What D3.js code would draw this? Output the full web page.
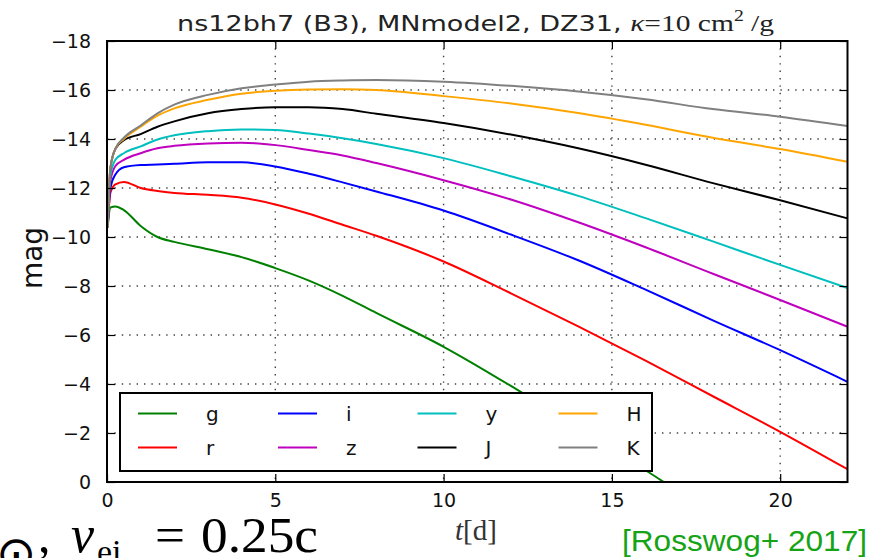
<!DOCTYPE html>
<html>
<head>
<meta charset="utf-8">
<script src="https://cdn.jsdelivr.net/npm/d3@7"></script>
<style>
  html, body { margin: 0; padding: 0; background: #fff; }
  svg { display: block; }
</style>
</head>
<body>
<svg id="chart" width="881" height="558"></svg>
<script>
// ---------------- data ----------------
const times = [0.02, 0.1, 0.25, 0.5, 1, 1.5, 2, 3, 4, 5, 6, 7, 8, 10, 12, 14, 16, 18, 20, 22];
const bandNames = ["g", "r", "i", "z", "y", "J", "H", "K"];
const bandColors = ["#008000", "#ff0000", "#0000ff", "#bf00bf", "#00bfbf", "#000000", "#ffa500", "#808080"];
const gMag = [-10.4, -11.2, -11.25, -11.1, -10.45, -10.0, -9.8, -9.5, -9.18, -8.73, -8.22, -7.6, -6.9, -5.52, -3.92, -2.2, -0.48, 1.3, 3.0, 4.8];
const rMag = [-10.4, -11.8, -12.15, -12.25, -12.0, -11.88, -11.8, -11.72, -11.6, -11.33, -10.95, -10.5, -10.05, -9.0, -7.7, -6.35, -4.95, -3.5, -2.05, -0.52];
const iMag = [-10.4, -12.0, -12.55, -12.85, -12.94, -12.96, -12.99, -13.05, -13.05, -12.88, -12.58, -12.23, -11.86, -11.08, -10.1, -9.05, -7.85, -6.6, -5.38, -4.09];
const zMag = [-10.4, -12.3, -12.9, -13.15, -13.42, -13.62, -13.72, -13.82, -13.85, -13.75, -13.55, -13.33, -13.02, -12.32, -11.53, -10.6, -9.58, -8.5, -7.43, -6.34];
const yMag = [-10.4, -12.5, -13.15, -13.42, -13.7, -13.98, -14.15, -14.32, -14.39, -14.37, -14.22, -14.03, -13.8, -13.22, -12.48, -11.68, -10.77, -9.82, -8.86, -7.92];
const JMag = [-10.4, -12.8, -13.6, -13.95, -14.2, -14.5, -14.72, -15.05, -15.22, -15.3, -15.3, -15.22, -15.03, -14.65, -14.18, -13.62, -12.95, -12.2, -11.5, -10.76];
const HMag = [-10.4, -12.8, -13.6, -14.0, -14.5, -14.95, -15.25, -15.6, -15.85, -15.97, -16.02, -16.03, -16.0, -15.75, -15.45, -15.06, -14.58, -14.05, -13.59, -13.07];
const KMag = [-10.4, -12.8, -13.6, -14.05, -14.55, -15.05, -15.4, -15.8, -16.07, -16.22, -16.34, -16.39, -16.41, -16.34, -16.17, -15.94, -15.62, -15.22, -14.91, -14.53];
const xTicks = [0, 5, 10, 15, 20];
const yTicks = [-18, -16, -14, -12, -10, -8, -6, -4, -2, 0];
const titleText = "ns12bh7 (B3), MNmodel2, DZ31, ";

const series = [gMag, rMag, iMag, zMag, yMag, JMag, HMag, KMag];

// ---------------- layout ----------------
const L = 107, R = 847.5, T = 41, B = 482;
const svg = d3.select("#chart");
const x = d3.scaleLinear().domain([0, 22]).range([L, R]);
const y = d3.scaleLinear().domain([-18, 0]).range([T, B]);
const sans = "'DejaVu Sans', sans-serif";
const serif = "'Liberation Serif', 'DejaVu Serif', serif";

svg.append("defs").append("clipPath").attr("id", "clip")
  .append("rect").attr("x", L).attr("y", T).attr("width", R - L).attr("height", B - T);

// grid
const grid = svg.append("g");
grid.selectAll(".gx").data(xTicks.filter(d => d > 0 && d < 22)).join("line")
  .attr("x1", d => x(d)).attr("x2", d => x(d)).attr("y1", T).attr("y2", B)
  .attr("stroke", "#000").attr("stroke-width", 1.4).attr("stroke-dasharray", "1.4,6").attr("opacity", 0.75);
grid.selectAll(".gy").data(yTicks.filter(d => d > -18 && d < 0)).join("line")
  .attr("y1", d => y(d)).attr("y2", d => y(d)).attr("x1", L).attr("x2", R)
  .attr("stroke", "#000").attr("stroke-width", 1.4).attr("stroke-dasharray", "1.4,6").attr("opacity", 0.75);

// curves
const line = d3.line().x((d, i) => x(times[i])).y(d => y(d)).curve(d3.curveMonotoneX);
const curves = svg.append("g").attr("clip-path", "url(#clip)");
series.forEach((s, k) => {
  curves.append("path").datum(s).attr("d", line)
    .attr("fill", "none").attr("stroke", bandColors[k]).attr("stroke-width", 2);
});

// axes with inward ticks on all sides
const tickLen = 8;
const axG = svg.append("g");
axG.append("g").attr("transform", `translate(0,${B})`)
  .call(d3.axisBottom(x).tickValues(xTicks).tickSize(-tickLen).tickPadding(12).tickFormat(d3.format("d")));
axG.append("g").attr("transform", `translate(0,${T})`)
  .call(d3.axisTop(x).tickValues(xTicks).tickSize(-tickLen).tickFormat(""));
axG.append("g").attr("transform", `translate(${L},0)`)
  .call(d3.axisLeft(y).tickValues(yTicks).tickSize(-tickLen).tickPadding(16)
    .tickFormat(d => d < 0 ? "\u2212" + Math.abs(d) : String(d)));
axG.append("g").attr("transform", `translate(${R},0)`)
  .call(d3.axisRight(y).tickValues(yTicks).tickSize(-tickLen).tickFormat(""));
axG.selectAll(".domain").remove();
axG.selectAll(".tick line").attr("stroke", "#000").attr("stroke-width", 1.2);
axG.selectAll(".tick text").attr("font-family", sans).attr("font-size", 19).attr("fill", "#111");
svg.append("rect").attr("x", L).attr("y", T).attr("width", R - L).attr("height", B - T)
  .attr("fill", "none").attr("stroke", "#000").attr("stroke-width", 2);

// legend
const lg = svg.append("g");
lg.append("rect").attr("x", 120).attr("y", 393).attr("width", 532).attr("height", 78)
  .attr("fill", "#fff").attr("stroke", "#000").attr("stroke-width", 2);
const colX = [138, 278, 417.5, 558.5];
const rowY = [413.5, 447.5];
bandNames.forEach((n, k) => {
  const c = Math.floor(k / 2), r = k % 2;
  lg.append("line").attr("x1", colX[c]).attr("x2", colX[c] + 39).attr("y1", rowY[r]).attr("y2", rowY[r])
    .attr("stroke", bandColors[k]).attr("stroke-width", 2);
  lg.append("text").attr("x", colX[c] + 68).attr("y", rowY[r] + 7.5)
    .attr("font-family", sans).attr("font-size", 20).attr("fill", "#111").text(n);
});

// title (horizontally stretched like the reference)
const title = svg.append("text").attr("transform", "translate(177,31) scale(1.23,1)")
  .attr("font-family", sans).attr("font-size", 22).attr("fill", "#222");
title.append("tspan").text(titleText);
title.append("tspan").attr("font-family", serif).attr("font-style", "italic").attr("font-size", 24).text("\u03BA");
title.append("tspan").attr("font-family", serif).attr("font-size", 24).text("=10 cm");
title.append("tspan").attr("font-family", serif).attr("font-size", 16).attr("dy", -10).text("2");
title.append("tspan").attr("font-family", serif).attr("font-size", 24).attr("dy", 10).text(" /g");

// axis labels
svg.append("text").attr("transform", "translate(42,258) rotate(-90)").attr("text-anchor", "middle")
  .attr("font-family", sans).attr("font-size", 28).attr("fill", "#111").text("mag");
const xl = svg.append("text").attr("x", 476).attr("y", 540).attr("text-anchor", "middle")
  .attr("font-family", serif).attr("font-size", 29).attr("fill", "#333");
xl.append("tspan").attr("font-style", "italic").text("t");
xl.append("tspan").text("[d]");

// slide texts around the figure
svg.append("text").attr("x", 16).attr("y", 570).attr("text-anchor", "middle")
  .attr("font-family", "'DejaVu Sans', sans-serif").attr("font-size", 48).attr("fill", "#000").text("\u2299");
svg.append("text").attr("x", 38).attr("y", 552)
  .attr("font-family", serif).attr("font-size", 50).attr("fill", "#000").text(",");
svg.append("text").attr("x", 71).attr("y", 552)
  .attr("font-family", serif).attr("font-style", "italic").attr("font-size", 52).attr("fill", "#000").text("v");
svg.append("text").attr("x", 97).attr("y", 563)
  .attr("font-family", serif).attr("font-size", 34).attr("fill", "#000").text("ei");
svg.append("text").attr("x", 155).attr("y", 552)
  .attr("font-family", serif).attr("font-size", 50).attr("fill", "#000")
  .attr("textLength", 30).attr("lengthAdjust", "spacingAndGlyphs").text("=");
svg.append("text").attr("x", 201).attr("y", 552)
  .attr("font-family", serif).attr("font-size", 50).attr("fill", "#000")
  .attr("textLength", 117).attr("lengthAdjust", "spacingAndGlyphs").text("0.25c");
svg.append("text").attr("x", 622).attr("y", 551)
  .attr("font-family", "'Liberation Sans', Arial, sans-serif").attr("font-size", 30)
  .attr("textLength", 245).attr("lengthAdjust", "spacingAndGlyphs")
  .attr("fill", "#16a316").text("[Rosswog+ 2017]");
</script>
</body>
</html>
